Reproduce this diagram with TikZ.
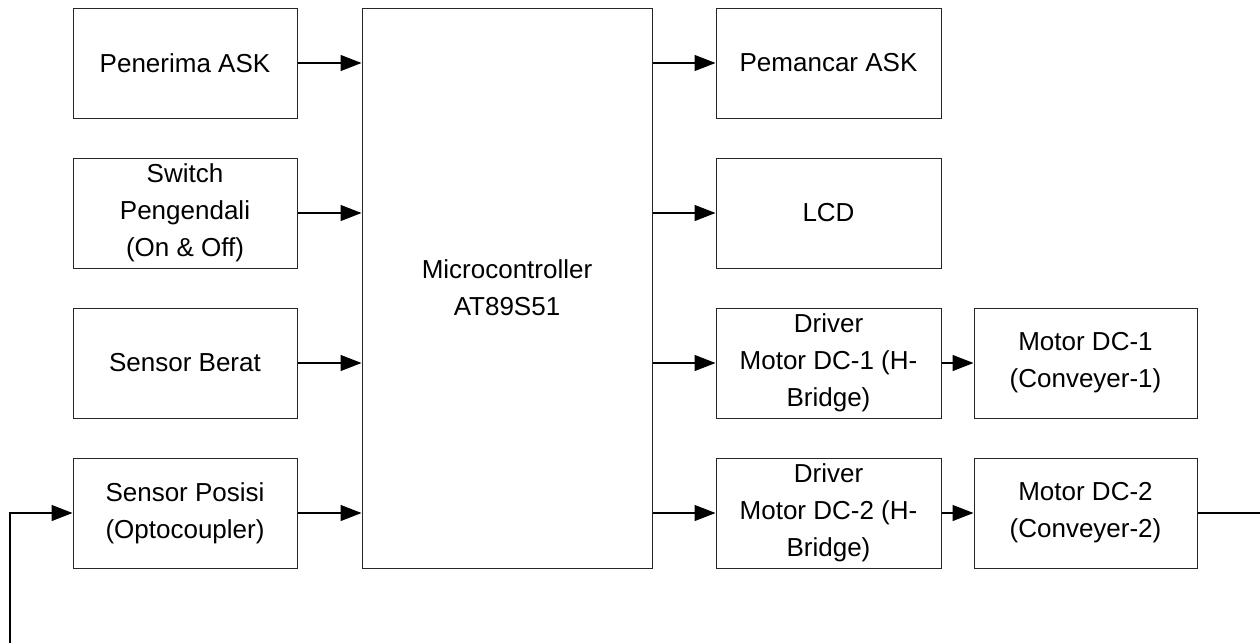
\documentclass[tikz,border=0pt]{standalone}
\usepackage{fontspec}
\setmainfont{Liberation Sans}
\usetikzlibrary{arrows.meta}
\begin{document}
\begin{tikzpicture}[x=1pt,y=-1pt,
  blk/.style={draw=black!85,line width=1pt,inner sep=0pt,align=center,
    font=\fontsize{26}{37}\selectfont,minimum height=110pt},
  lbox/.style={blk,minimum width=224pt},
  rbox/.style={blk,minimum width=225pt},
  mbox/.style={blk,minimum width=223pt},
  arr/.style={line width=1.3pt,-{Triangle[length=21pt,width=16pt]}},
  ln/.style={line width=1.3pt}]
\useasboundingbox (0,0) rectangle (1260,643);
\node[lbox] (pen) at (185,63) {Penerima ASK};
\node[lbox] (sw) at (185,213) {Switch\\Pengendali\\(On \& Off)};
\node[lbox] (sb) at (185,363) {Sensor Berat};
\node[lbox] (sp) at (185,513) {Sensor Posisi\\(Optocoupler)};
\node[blk,minimum width=290pt,minimum height=560pt] (mc) at (507,288) {Microcontroller\\AT89S51};
\node[rbox] (pa) at (828.5,63) {Pemancar ASK};
\node[rbox] (lcd) at (828.5,213) {LCD};
\node[rbox] (d1) at (828.5,363) {Driver\\Motor DC-1 (H-\\Bridge)};
\node[rbox] (d2) at (828.5,513) {Driver\\Motor DC-2 (H-\\Bridge)};
\node[mbox] (m1) at (1085.5,363) {Motor DC-1\\(Conveyer-1)};
\node[mbox] (m2) at (1085.5,513) {Motor DC-2\\(Conveyer-2)};
\coordinate (bl) at (10,643);
\coordinate (br) at (1260,513);
\foreach \n in {pen,sw,sb,sp} \draw[arr] (\n.east) -- (\n.east -| mc.west);
\foreach \n in {pa,lcd,d1,d2} \draw[arr] (\n.west -| mc.east) -- (\n.west);
\draw[arr] (d1.east) -- (m1.west);
\draw[arr] (d2.east) -- (m2.west);
\draw[ln] (m2.east) -- (br);
\draw[arr] (bl) |- (sp.west);
\end{tikzpicture}
\end{document}
